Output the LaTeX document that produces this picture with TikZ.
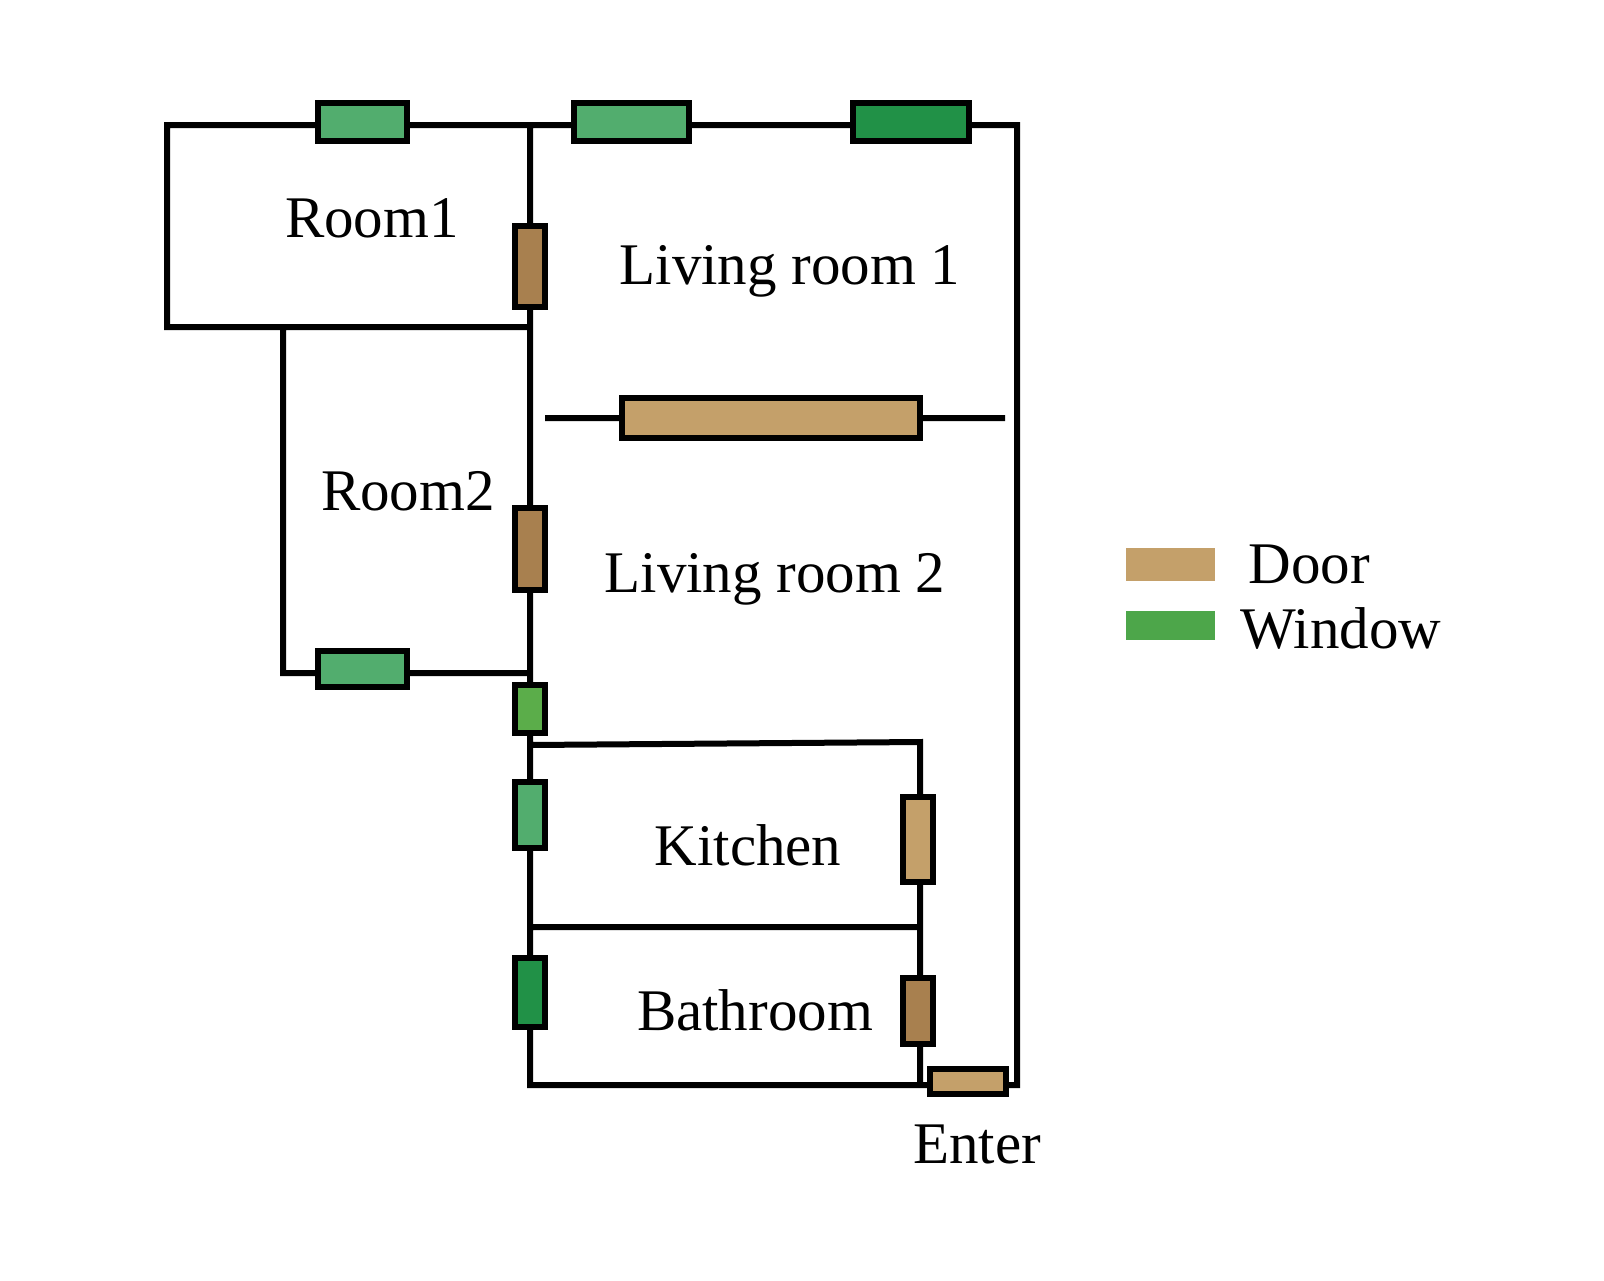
\documentclass[tikz,border=0pt]{standalone}
\usepackage{fontspec}
\setmainfont{Liberation Serif}
\usepackage{tikz}
\definecolor{winmid}{HTML}{52AD6E}
\definecolor{windark}{HTML}{219147}
\definecolor{winlight}{HTML}{5BAD4A}
\definecolor{doortan}{HTML}{C4A06A}
\definecolor{doorbrown}{HTML}{A8804F}
\definecolor{legwin}{HTML}{4DA64A}

\begin{document}
\begin{tikzpicture}[x=0.5pt,y=-0.5pt,line join=miter,
		wall/.style={draw,line width=3pt},
		opening/.style={draw,line width=2.8pt},
		window/.style={opening,fill=winmid},
		dark window/.style={opening,fill=windark},
		light window/.style={opening,fill=winlight},
		door/.style={opening,fill=doortan},
		dark door/.style={opening,fill=doorbrown},
		room label/.style={anchor=base,inner sep=0pt,font=\fontsize{29.5}{34}\selectfont}]
		
		\useasboundingbox (0,0) rectangle (1604,1280);
		
		
		\path[wall]
		(530,125) -- (167,125) -- (167,327) -- (530,327)
		(283,327) -- (283,673) -- (530,673)
		(530,125) -- (1017,125) -- (1017,1085) -- (920,1085)
		(530,125) -- (530,1085) -- (920,1085)
		(530,745) -- (920,742) -- (920,1085)
		(530,927) -- (920,927)
		(545,418) -- (1005,418)
		;
		
		\path[window] (318,103) rectangle (407,141);
		\path[window] (574,103) rectangle (689,141);
		\path[dark window] (853,103) rectangle (969,141);
		\path[window] (318,651) rectangle (407,687);
		\path[light window] (515,685) rectangle (545,733);
		\path[window] (515,782) rectangle (545,848);
		\path[dark window] (515,958) rectangle (545,1027);
		
		\path[dark door] (515,226) rectangle (545,307);
		\path[dark door] (515,508) rectangle (545,590);
		\path[door] (622,398) rectangle (920,438);
		\path[door] (903,797) rectangle (933,882);
		\path[dark door] (903,978) rectangle (933,1044);
		\path[door] (930,1069) rectangle (1006,1094);
		
		\node[room label] (room1) at (372,237) {Room1};
		\node[room label] (living1) at (790,284) {Living room 1};
		\node[room label] (room2) at (408,510) {Room2};
		\node[room label] (living2) at (775,592) {Living room 2};
		\node[room label] (kitchen) at (748,865) {Kitchen};
		\node[room label] (bath) at (755,1030) {Bathroom};
		\node[room label] (enter) at (977,1163) {Enter};
		
		\fill[doortan] (1126,548) rectangle (1215,581);
		\fill[legwin] (1126,611) rectangle (1215,640);
		\node[room label,anchor=base west] (legdoor) at (1248,583) {Door};
		\node[room label,anchor=base west] (legwindow) at (1240,648) {Window};
		\end{tikzpicture}
\end{document}
